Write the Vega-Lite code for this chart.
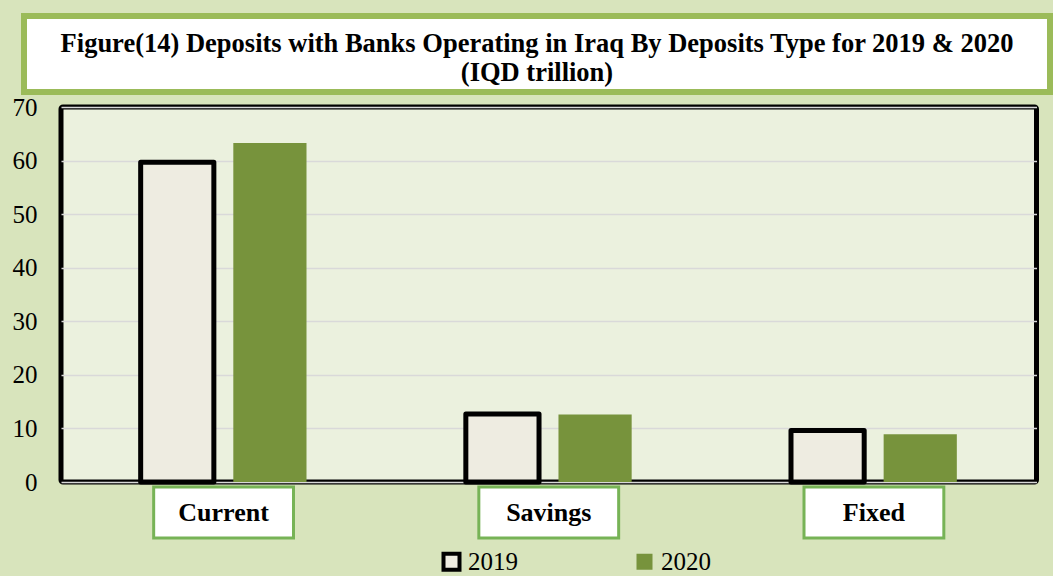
{
  "$schema": "https://vega.github.io/schema/vega-lite/v6.json",
  "background": "#d8e4bc",
  "padding": {"left": 12, "top": 13, "right": 0, "bottom": 0},
  "config": {
    "view": {"stroke": null},
    "font": "Liberation Serif, Times New Roman, serif",
    "legend": {"labelFont": "Liberation Serif, Times New Roman, serif"},
    "axis": {"labelFont": "Liberation Serif, Times New Roman, serif"}
  },
  "datasets": {
    "deposits": [
      {"type": "Current", "year": "2019", "value": 59.7},
      {"type": "Current", "year": "2020", "value": 63.3},
      {"type": "Savings", "year": "2019", "value": 12.7},
      {"type": "Savings", "year": "2020", "value": 12.6},
      {"type": "Fixed", "year": "2019", "value": 9.6},
      {"type": "Fixed", "year": "2020", "value": 8.9}
    ],
    "types": [
      {"type": "Current"},
      {"type": "Savings"},
      {"type": "Fixed"}
    ]
  },
  "spacing": 0,
  "vconcat": [
    {
      "data": {"values": [{}]},
      "width": 1026,
      "height": 76,
      "view": {"fill": "#ffffff", "stroke": "#9bbb59", "strokeWidth": 6},
      "mark": {"type": "text", "fontWeight": "bold", "fontSize": 26.5, "lineHeight": 28.5, "dy": -10, "color": "#000000", "font": "Liberation Serif, Times New Roman, serif"},
      "encoding": {
        "text": {"value": ["Figure(14) Deposits with Banks Operating in Iraq By Deposits Type for 2019 & 2020", "(IQD trillion)"]}
      }
    },
    {
      "align": "each",
      "spacing": 21,
      "hconcat": [
        {
          "data": {"name": "deposits"},
          "width": 1,
          "height": 375,
          "mark": {"type": "point", "opacity": 0},
          "encoding": {
            "y": {
              "field": "value", "type": "quantitative",
              "scale": {"domain": [0, 70], "nice": false},
              "axis": {
                "orient": "right", "labelAlign": "right", "labelPadding": 12,
                "values": [0, 10, 20, 30, 40, 50, 60, 70],
                "title": null, "domain": false, "ticks": false, "grid": false,
                "labelFont": "Liberation Serif, Times New Roman, serif", "labelFontSize": 25, "labelColor": "#000000"
              }
            }
          }
        },
        {
          "spacing": -2,
          "resolve": {"scale": {"x": "independent"}},
          "vconcat": [
            {
              "data": {"name": "deposits"},
              "width": 975.5,
              "height": 375,
              "view": {"fill": "#ebf1de", "stroke": "#000000", "strokeWidth": 5, "cornerRadius": 2},
              "mark": {"type": "bar", "strokeWidth": 5, "strokeJoin": "round"},
              "encoding": {
                "x": {
                  "field": "type", "type": "nominal", "sort": ["Current", "Savings", "Fixed"],
                  "scale": {"paddingInner": 0.49, "paddingOuter": 0.245},
                  "axis": null
                },
                "xOffset": {
                  "field": "year", "type": "nominal",
                  "scale": {"paddingInner": 0.21, "paddingOuter": 0}
                },
                "y": {
                  "field": "value", "type": "quantitative",
                  "scale": {"domain": [0, 70], "nice": false},
                  "axis": {
                    "values": [0, 10, 20, 30, 40, 50, 60, 70],
                    "title": null, "domain": false, "ticks": false, "labels": false,
                    "grid": true, "gridColor": "#d9d9d9", "gridWidth": 1.5
                  }
                },
                "fill": {
                  "field": "year", "type": "nominal",
                  "scale": {"range": ["#eeece1", "#77933c"]},
                  "legend": {
                    "title": null, "orient": "none", "legendX": 415, "legendY": 533,
                    "direction": "horizontal", "symbolType": "square", "symbolSize": 256,
                    "symbolStrokeWidth": 4, "labelFont": "Liberation Serif, Times New Roman, serif", "labelFontSize": 25,
                    "labelColor": "#000000", "columnPadding": 110, "labelOffset": 4
                  }
                },
                "stroke": {
                  "field": "year", "type": "nominal",
                  "scale": {"range": ["#000000", "transparent"]},
                  "legend": {
                    "title": null, "orient": "none", "legendX": 415, "legendY": 533,
                    "direction": "horizontal", "symbolType": "square", "symbolSize": 256,
                    "symbolStrokeWidth": 4, "labelFont": "Liberation Serif, Times New Roman, serif", "labelFontSize": 25,
                    "labelColor": "#000000", "columnPadding": 110, "labelOffset": 4
                  }
                }
              }
            },
            {
              "data": {"name": "types"},
              "width": 975.5,
              "height": 51,
              "layer": [
                {
                  "mark": {"type": "rect", "fill": "#ffffff", "stroke": "#77b356", "strokeWidth": 3},
                  "encoding": {
                    "x": {
                      "field": "type", "type": "nominal", "sort": ["Current", "Savings", "Fixed"],
                      "scale": {"paddingInner": 0.57, "paddingOuter": 0.285},
                      "axis": null
                    }
                  }
                },
                {
                  "mark": {"type": "text", "fontWeight": "bold", "fontSize": 26, "color": "#000000", "font": "Liberation Serif, Times New Roman, serif"},
                  "encoding": {
                    "x": {
                      "field": "type", "type": "nominal", "sort": ["Current", "Savings", "Fixed"],
                      "axis": null
                    },
                    "text": {"field": "type"}
                  }
                }
              ]
            }
          ]
        }
      ]
    }
  ]
}
